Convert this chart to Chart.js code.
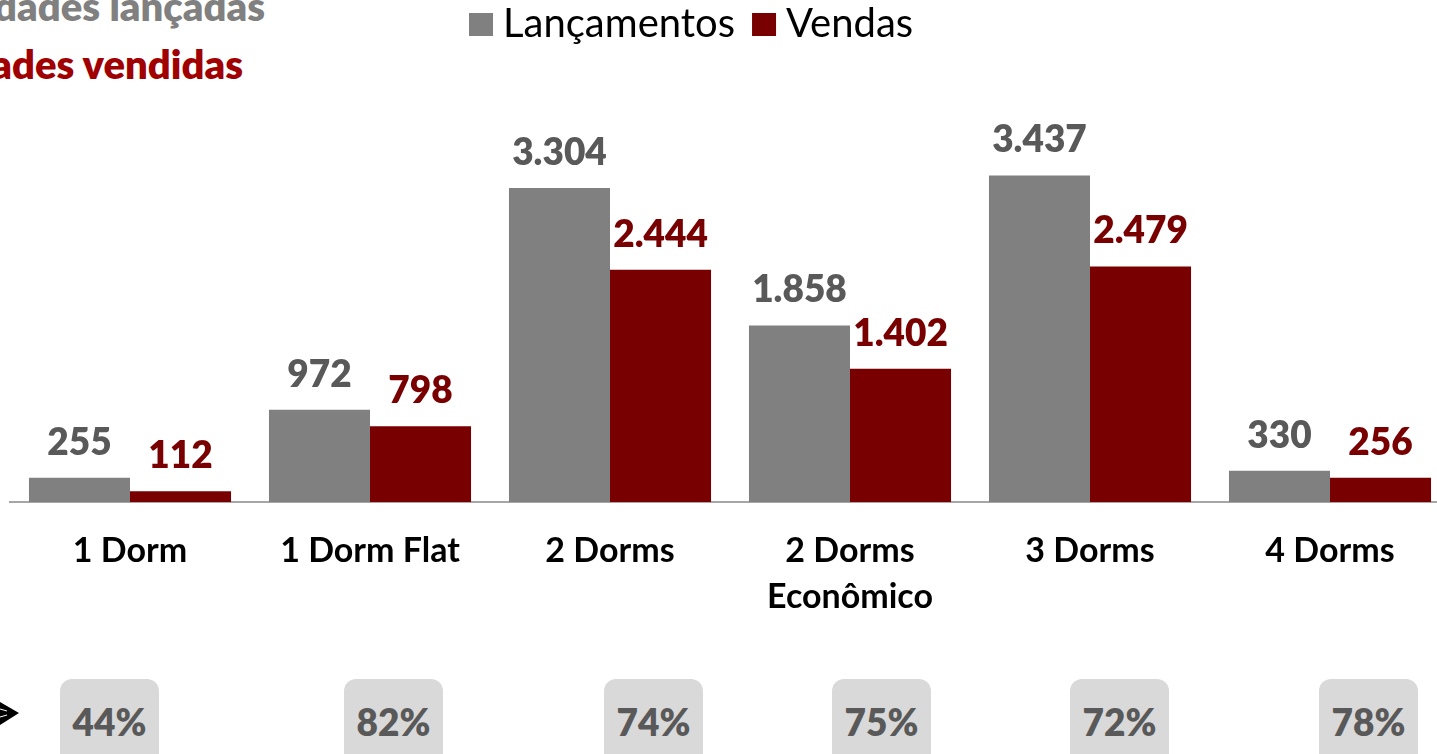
<!DOCTYPE html>
<html lang="pt-BR">
<head>
<meta charset="utf-8">
<title>Lançamentos e Vendas por tipologia</title>
<script src="https://cdn.jsdelivr.net/npm/chart.js@4.4.0/dist/chart.umd.min.js"></script>
<style>
  html, body {
    margin: 0;
    padding: 0;
    width: 1437px;
    height: 754px;
    overflow: hidden;
    background: #fff;
    font-family: Lato, "Open Sans", sans-serif;
  }
  #chartWrap {
    position: absolute;
    left: 0;
    top: 0;
    width: 1460px;
    height: 754px;
  }
  .caption {
    position: absolute;
    white-space: nowrap;
    font-weight: 800;
    font-size: 40px;
    line-height: 48px;
    text-align: right;
  }
  #captionLaunch { right: 1172px; top: -18px; color: #808080; }
  #captionSales { right: 1194px; top: 40px; color: #a00000; }
  .ratio {
    position: absolute;
    top: 679px;
    width: 99px;
    height: 100px;
    border-radius: 12px;
    background: #d9d9d9;
    color: #595959;
    font-weight: 800;
    font-size: 37px;
    line-height: 86px;
    text-align: center;
  }
  #arrow { position: absolute; left: 0; top: 690px; }
</style>
</head>
<body>
<div id="captionLaunch" class="caption">Unidades lançadas</div>
<div id="captionSales" class="caption">Unidades vendidas</div>
<div id="chartWrap"><canvas id="typologyChart"></canvas></div>
<svg id="arrow" width="24" height="50">
  <polygon points="0,12 19,23 0,35" fill="#000"></polygon>
  <line x1="0" y1="19" x2="7" y2="21" stroke="#fff" stroke-width="1"></line>
  <line x1="0" y1="27" x2="7" y2="25" stroke="#fff" stroke-width="1"></line>
</svg>
<div id="ratios"></div>

<script>
const categories = ['1 Dorm', '1 Dorm Flat', '2 Dorms', ['2 Dorms', 'Econômico'], '3 Dorms', '4 Dorms'];
const launches = [255, 972, 3304, 1858, 3437, 330];
const sales = [112, 798, 2444, 1402, 2479, 256];
const salesRatios = ['44%', '82%', '74%', '75%', '72%', '78%'];

const GRAY = '#808080';
const DARK_RED = '#780000';
const FONT = 'Lato, "Open Sans", sans-serif';

// left edge of each percentage tag on the slide
const ratioLefts = [60, 344, 604, 832, 1070, 1319];

function formatValue(value) {
  return String(value).replace(/\B(?=(\d{3})+(?!\d))/g, '.');
}

// numbers above every bar
const valueLabels = {
  id: 'valueLabels',
  afterDatasetsDraw(chart) {
    const { ctx } = chart;
    ctx.save();
    ctx.font = `800 37px ${FONT}`;
    ctx.textAlign = 'center';
    ctx.textBaseline = 'alphabetic';
    chart.data.datasets.forEach((ds, i) => {
      const meta = chart.getDatasetMeta(i);
      ctx.fillStyle = ds.labelColor;
      meta.data.forEach((bar, j) => {
        ctx.fillText(formatValue(ds.data[j]), bar.x, bar.y - 23);
      });
    });
    ctx.restore();
  },
};

// legend drawn by hand, it sits left of the canvas centre on the slide
const slideLegend = {
  id: 'slideLegend',
  afterDraw(chart) {
    const { ctx } = chart;
    ctx.save();
    ctx.font = `40px ${FONT}`;
    ctx.textBaseline = 'alphabetic';
    let x = 469;
    chart.data.datasets.forEach((ds) => {
      ctx.fillStyle = ds.backgroundColor;
      ctx.fillRect(x, 13, 24, 23);
      x += 34;
      ctx.fillStyle = '#000';
      ctx.fillText(ds.label, x, 37);
      x += ctx.measureText(ds.label).width + 17;
    });
    ctx.restore();
  },
};

function buildRatioTags() {
  const holder = document.getElementById('ratios');
  salesRatios.forEach((text, i) => {
    const tag = document.createElement('div');
    tag.className = 'ratio';
    tag.style.left = `${ratioLefts[i]}px`;
    tag.textContent = text;
    holder.append(tag);
  });
}

function init() {
  buildRatioTags();

  const ctx = document.getElementById('typologyChart');
  new Chart(ctx, {
    type: 'bar',
    data: {
      labels: categories,
      datasets: [
        {
          label: 'Lançamentos',
          data: launches,
          backgroundColor: GRAY,
          labelColor: '#595959',
        },
        {
          label: 'Vendas',
          data: sales,
          backgroundColor: DARK_RED,
          labelColor: DARK_RED,
        },
      ],
    },
    options: {
      responsive: true,
      maintainAspectRatio: false,
      animation: false,
      datasets: {
        bar: { categoryPercentage: 0.842, barPercentage: 1.0 },
      },
      layout: {
        padding: { left: 10, right: 10, top: 103, bottom: 108 },
      },
      scales: {
        x: {
          grid: { display: false, drawTicks: false },
          border: { display: true, color: '#a6a6a6', width: 2 },
          ticks: {
            color: '#000',
            padding: 26,
            font: { family: FONT, size: 34, weight: 'bold', lineHeight: '46px' },
            maxRotation: 0,
            autoSkip: false,
          },
        },
        y: {
          display: false,
          min: 0,
          max: 4200,
        },
      },
      plugins: {
        legend: { display: false },
        tooltip: { enabled: false },
      },
    },
    plugins: [valueLabels, slideLegend],
  });
}

window.addEventListener('DOMContentLoaded', init);
</script>
</body>
</html>
